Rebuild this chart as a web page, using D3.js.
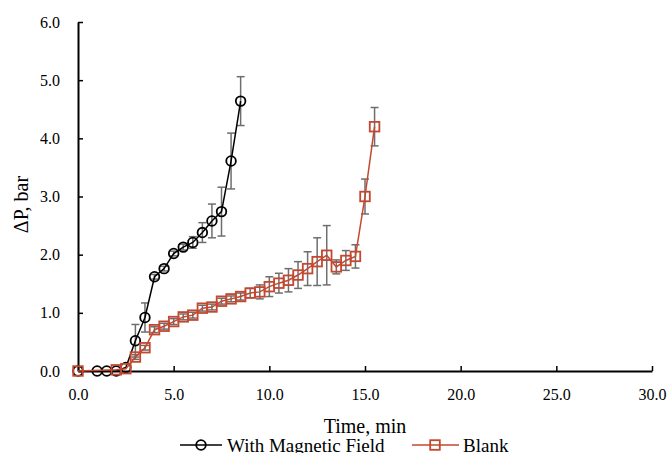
<!DOCTYPE html>
<html>
<head>
<meta charset="utf-8">
<script src="https://cdn.jsdelivr.net/npm/d3@7"></script>
<style>
  body { margin: 0; background: #fff; }
  text { font-family: "Liberation Serif", "Times New Roman", serif; }
</style>
</head>
<body>
<div id="my_dataviz"></div>
<script>
// data
var timeMag  = [0, 1.0, 1.5, 2.0, 2.5, 3.0, 3.5, 4.0, 4.5, 5.0, 5.5, 6.0, 6.5, 7.0, 7.5, 8.0, 8.5];
var dpMag    = [0, 0, 0, 0, 0.06, 0.52, 0.92, 1.62, 1.76, 2.02, 2.13, 2.21, 2.38, 2.58, 2.74, 3.61, 4.64];
var errMag   = [0, 0, 0, 0, 0, 0.28, 0.25, 0.04, 0.04, 0.04, 0.05, 0.10, 0.17, 0.29, 0.42, 0.48, 0.42];

var timeBlank = [0, 2.0, 2.5, 3.0, 3.5, 4.0, 4.5, 5.0, 5.5, 6.0, 6.5, 7.0, 7.5, 8.0, 8.5, 9.0, 9.5,
                 10.0, 10.5, 11.0, 11.5, 12.0, 12.5, 13.0, 13.5, 14.0, 14.5, 15.0, 15.5];
var dpBlank   = [0, 0.02, 0.04, 0.24, 0.40, 0.71, 0.77, 0.85, 0.93, 0.96, 1.08, 1.10, 1.20, 1.24, 1.28, 1.34, 1.36,
                 1.45, 1.51, 1.56, 1.65, 1.76, 1.88, 1.99, 1.79, 1.90, 1.97, 3.00, 4.20];
var errBlank  = [0, 0, 0, 0.04, 0.04, 0.05, 0.05, 0.05, 0.05, 0.05, 0.05, 0.05, 0.05, 0.05, 0.06, 0.08, 0.12,
                 0.17, 0.17, 0.20, 0.23, 0.29, 0.41, 0.51, 0.12, 0.17, 0.20, 0.30, 0.33];

var xTicks = [0, 5, 10, 15, 20, 25, 30];
var yTicks = [0, 1, 2, 3, 4, 5, 6];
var seriesNames = ["With Magnetic Field", "Blank"];

var blankColor = "#c4472f";
var errColor = "#6e6e6e";
var serif = "'Liberation Serif', 'Times New Roman', serif";

// set the dimensions and margins of the graph
var margin = {top: 22, right: 20, bottom: 82, left: 78},
    width = 672 - margin.left - margin.right,
    height = 453 - margin.top - margin.bottom;

var svg = d3.select("#my_dataviz")
  .append("svg")
    .attr("width", width + margin.left + margin.right)
    .attr("height", height + margin.top + margin.bottom)
  .append("g")
    .attr("transform", "translate(" + margin.left + "," + margin.top + ")");

var x = d3.scaleLinear().domain([0, 30]).range([0, width]);
var y = d3.scaleLinear().domain([0, 6]).range([height, 0]);

// axes, ticks pointing inward
var xAxis = svg.append("g")
  .attr("transform", "translate(0," + height + ")")
  .call(d3.axisBottom(x).tickValues(xTicks).tickFormat(d3.format(".1f"))
    .tickSizeInner(-5).tickSizeOuter(0).tickPadding(18));

var yAxis = svg.append("g")
  .call(d3.axisLeft(y).tickValues(yTicks).tickFormat(d3.format(".1f"))
    .tickSizeInner(-5).tickSizeOuter(0).tickPadding(18));

[xAxis, yAxis].forEach(function(a) {
  a.attr("font-family", serif).attr("font-size", 16);
  a.select(".domain").attr("stroke", "#000").attr("stroke-width", 2);
  a.selectAll(".tick line").attr("stroke", "#000").attr("stroke-width", 1.5);
  a.selectAll(".tick text")
    .attr("fill", "#000")
    .attr("font-family", serif)
    .style("font-family", serif)
    .style("font-size", "16px");
});

// axis titles
svg.append("text")
  .attr("x", width / 2)
  .attr("y", height + 62)
  .attr("text-anchor", "middle")
  .style("font-size", "20px")
  .text("Time, min");

svg.append("text")
  .attr("transform", "translate(" + (-50) + "," + (height / 2 + 8) + ")rotate(-90)")
  .attr("text-anchor", "middle")
  .style("font-size", "20px")
  .text("\u0394P, bar");

function drawSeries(tx, ty, te, color, shape) {
  var data = tx.map(function(t, i) { return {t: t, v: ty[i], e: te[i]}; });

  // error bars
  var eb = svg.append("g").attr("stroke", errColor).attr("stroke-width", 1.5);
  data.filter(function(d) { return d.e > 0; }).forEach(function(d) {
    var cx = x(d.t);
    eb.append("line").attr("x1", cx).attr("x2", cx)
      .attr("y1", y(d.v + d.e)).attr("y2", y(d.v - d.e));
    eb.append("line").attr("x1", cx - 4).attr("x2", cx + 4)
      .attr("y1", y(d.v + d.e)).attr("y2", y(d.v + d.e));
    eb.append("line").attr("x1", cx - 4).attr("x2", cx + 4)
      .attr("y1", y(d.v - d.e)).attr("y2", y(d.v - d.e));
  });

  // the line
  svg.append("path")
    .datum(data)
    .attr("fill", "none")
    .attr("stroke", color)
    .attr("stroke-width", 1.5)
    .attr("d", d3.line()
      .x(function(d) { return x(d.t); })
      .y(function(d) { return y(d.v); }));

  // markers
  if (shape == "circle") {
    svg.selectAll("mymark")
      .data(data).enter()
      .append("circle")
        .attr("cx", function(d) { return x(d.t); })
        .attr("cy", function(d) { return y(d.v); })
        .attr("r", 4.8)
        .attr("fill", "none")
        .attr("stroke", color)
        .attr("stroke-width", 1.8);
  } else {
    svg.selectAll("mymark")
      .data(data).enter()
      .append("rect")
        .attr("x", function(d) { return x(d.t) - 4.8; })
        .attr("y", function(d) { return y(d.v) - 4.8; })
        .attr("width", 9.6)
        .attr("height", 9.6)
        .attr("fill", "none")
        .attr("stroke", color)
        .attr("stroke-width", 1.8);
  }
}

drawSeries(timeMag, dpMag, errMag, "#000", "circle");
drawSeries(timeBlank, dpBlank, errBlank, blankColor, "square");

// legend
var legend = svg.append("g").attr("transform", "translate(0," + (height + 74) + ")");
var lg1 = legend.append("g").attr("transform", "translate(102,0)");
lg1.append("line").attr("x1", 0).attr("x2", 42).attr("stroke", "#000").attr("stroke-width", 1.5);
lg1.append("circle").attr("cx", 21).attr("r", 4.8).attr("fill", "none")
  .attr("stroke", "#000").attr("stroke-width", 1.8);
lg1.append("text").attr("x", 47).attr("y", 6.5).style("font-size", "19px").text(seriesNames[0]);

var lg2 = legend.append("g").attr("transform", "translate(334,0)");
lg2.append("line").attr("x1", 0).attr("x2", 47).attr("stroke", blankColor).attr("stroke-width", 1.5);
lg2.append("rect").attr("x", 23 - 4.8).attr("y", -4.8).attr("width", 9.6).attr("height", 9.6)
  .attr("fill", "none").attr("stroke", blankColor).attr("stroke-width", 1.8);
lg2.append("text").attr("x", 51).attr("y", 6.5).style("font-size", "19px").text(seriesNames[1]);
</script>
</body>
</html>
